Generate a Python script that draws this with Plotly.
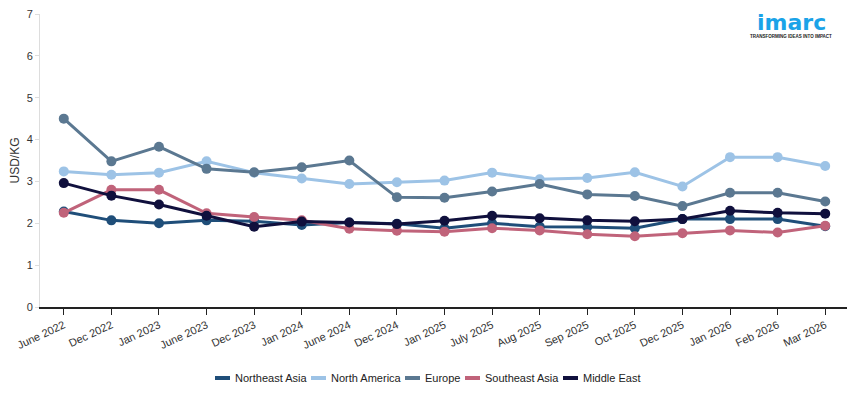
import plotly.graph_objects as go

categories = ["June 2022", "Dec 2022", "Jan 2023", "June 2023", "Dec 2023", "Jan 2024",
              "June 2024", "Dec 2024", "Jan 2025", "July 2025", "Aug 2025", "Sep 2025",
              "Oct 2025", "Dec 2025", "Jan 2026", "Feb 2026", "Mar 2026"]

northeast_asia = [2.28, 2.07, 2.00, 2.07, 2.05, 1.96, 2.02, 1.99, 1.88, 2.00, 1.92, 1.91,
                  1.88, 2.10, 2.10, 2.10, 1.93]
north_america = [3.24, 3.16, 3.21, 3.48, 3.21, 3.07, 2.94, 2.98, 3.02, 3.21, 3.05, 3.08,
                 3.22, 2.88, 3.58, 3.58, 3.37]
europe = [4.50, 3.48, 3.83, 3.30, 3.22, 3.34, 3.50, 2.62, 2.61, 2.76, 2.94, 2.69,
          2.65, 2.41, 2.73, 2.73, 2.52]
southeast_asia = [2.25, 2.80, 2.80, 2.24, 2.15, 2.07, 1.87, 1.82, 1.80, 1.88, 1.83, 1.74,
                  1.69, 1.76, 1.83, 1.78, 1.94]
middle_east = [2.96, 2.66, 2.45, 2.18, 1.92, 2.04, 2.02, 1.98, 2.06, 2.18, 2.12, 2.07,
               2.05, 2.10, 2.30, 2.25, 2.23]

series_names = ["Northeast Asia", "North America", "Europe", "Southeast Asia", "Middle East"]
series_values = [northeast_asia, north_america, europe, southeast_asia, middle_east]
series_colors = ["#1f4e79", "#9dc3e6", "#5b7891", "#c0637a", "#10103d"]

# figure geometry (page body adds an 8px offset)
W, H = 855, 393
ML, MR, MT, MB = 32, 14, 6, 94
PW = W - ML - MR
PH = H - MT - MB

fig = go.Figure()
for name, vals, color in zip(series_names, series_values, series_colors):
    fig.add_trace(go.Scatter(
        x=categories, y=vals, name=name, mode="lines+markers",
        line=dict(color=color, width=3),
        marker=dict(color=color, size=10),
        showlegend=False,
    ))

fig.update_layout(
    width=W, height=H,
    margin=dict(l=ML, r=MR, t=MT, b=MB, autoexpand=False),
    paper_bgcolor="white", plot_bgcolor="white",
    font=dict(family="Liberation Sans, Arial, sans-serif", size=11, color="#333333"),
    showlegend=False,
    xaxis=dict(
        type="category", showgrid=False, showline=True, linecolor="#222222", linewidth=1.5,
        ticks="outside", ticklen=6, tickcolor="#222222", tickangle=-25,
        tickfont=dict(size=11, color="#333333"),
        range=[-0.5, 16.5], automargin=False,
    ),
    yaxis=dict(
        range=[0, 7], dtick=1, showgrid=False, zeroline=False,
        showline=True, linecolor="#dddddd", linewidth=1,
        ticks="outside", ticklen=4, tickcolor="#dddddd",
        tickfont=dict(size=11, color="#333333"), automargin=False,
        ticklabeloverflow="allow",
        title=dict(text="USD/KG", font=dict(size=12, color="#333333"), standoff=6),
    ),
)

# legend (line swatches + labels) placed below the axis
legend_text_left = [225, 321, 415, 475, 573]  # figure pixels
legend_y_px = 370

def px_to_paper_x(px):
    return (px - ML) / PW

def px_to_paper_y(py):
    return (H - MB - py) / PH

ly = px_to_paper_y(legend_y_px)
for name, color, tx in zip(series_names, series_colors, legend_text_left):
    fig.add_shape(type="line", xref="paper", yref="paper",
                  x0=px_to_paper_x(tx - 18), x1=px_to_paper_x(tx - 3), y0=ly, y1=ly,
                  line=dict(color=color, width=4))
    fig.add_annotation(text=name, xref="paper", yref="paper", x=px_to_paper_x(tx), y=ly,
                       xanchor="left", yanchor="middle", showarrow=False,
                       font=dict(size=11, color="#222222"))

fig.add_annotation(text="<b>imarc</b>", xref="paper", yref="paper",
                   x=px_to_paper_x(783), y=px_to_paper_y(0),
                   xanchor="center", yanchor="top", showarrow=False,
                   font=dict(family="DejaVu Sans, sans-serif", size=22, color="#1aa3e8"))
fig.add_annotation(text="<b>TRANSFORMING IDEAS INTO IMPACT</b>", xref="paper", yref="paper",
                   x=px_to_paper_x(783), y=px_to_paper_y(28), xanchor="center", yanchor="middle",
                   showarrow=False,
                   font=dict(family="Liberation Sans, Arial, sans-serif", size=4.5, color="#222222"))

fig.write_html("out.html")
